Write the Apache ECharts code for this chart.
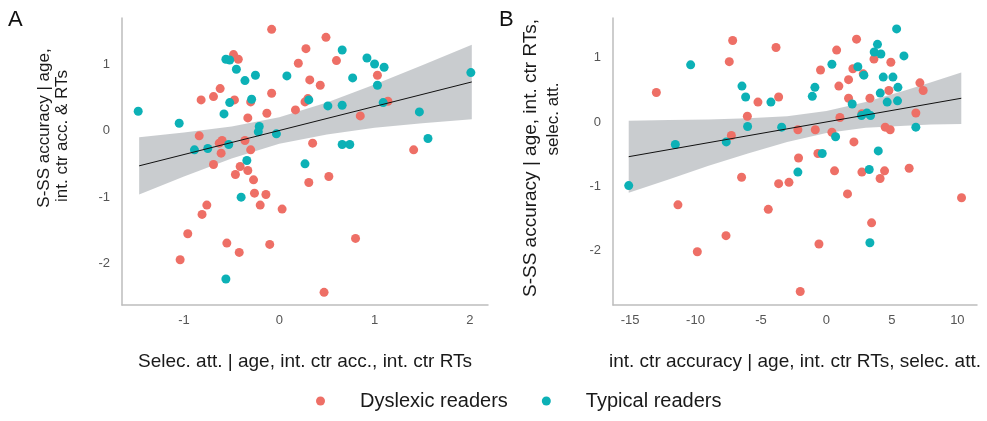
<!DOCTYPE html>
<html>
<head>
<meta charset="utf-8">
<script src="https://cdn.jsdelivr.net/npm/echarts@6/dist/echarts.min.js"></script>
<style>
  html, body { margin: 0; padding: 0; background: #fff; }
  #main { width: 987px; height: 421px; }
</style>
</head>
<body>
<div id="main"></div>
<script>
// panel A: selective attention (x) vs S-SS accuracy (y)
var dysA = [[-0.08,1.52],[0.49,1.40],[0.28,1.23],[-0.48,1.14],[-0.43,1.07],[0.20,1.01],[0.60,1.05],[1.03,0.83],[0.32,0.76],[0.43,0.68],[-0.62,0.63],[-0.08,0.56],[-0.69,0.51],[-0.82,0.46],[-0.47,0.46],[-0.30,0.43],[0.30,0.48],[0.27,0.43],[0.17,0.31],[-0.13,0.26],[-0.33,0.19],[1.14,0.44],[0.85,0.22],[-0.84,-0.08],[-0.60,-0.15],[-0.63,-0.19],[-0.36,-0.15],[-0.61,-0.34],[-0.30,-0.29],[0.35,-0.19],[1.41,-0.29],[-0.69,-0.51],[-0.41,-0.54],[-0.33,-0.60],[-0.46,-0.66],[-0.27,-0.74],[0.31,-0.78],[0.52,-0.69],[-0.26,-0.94],[-0.14,-0.96],[-0.20,-1.12],[0.03,-1.18],[-0.76,-1.12],[-0.81,-1.26],[-0.96,-1.55],[0.80,-1.62],[-0.55,-1.69],[-0.10,-1.71],[-0.42,-1.83],[-1.04,-1.94],[0.47,-2.43]];
var typA = [[-1.48,0.29],[-1.05,0.11],[-0.56,1.07],[-0.52,1.06],[-0.45,0.92],[-0.36,0.75],[-0.25,0.83],[0.08,0.82],[0.66,1.21],[0.92,1.09],[1.00,1.00],[1.10,0.95],[0.77,0.79],[1.03,0.68],[2.01,0.87],[-0.52,0.42],[-0.29,0.47],[-0.58,0.25],[0.31,0.46],[0.51,0.37],[0.66,0.38],[1.09,0.42],[1.47,0.28],[-0.21,0.06],[-0.22,-0.02],[-0.03,-0.05],[-0.89,-0.29],[-0.75,-0.27],[-0.53,-0.21],[0.66,-0.21],[0.74,-0.21],[1.56,-0.12],[-0.34,-0.45],[0.27,-0.50],[-0.40,-1.00],[-0.56,-2.23]];
var fitA = [[-1.47,-0.53],[2.02,0.73]];
var bandAX  = [-1.47, -1, -0.5, 0, 0.5, 1, 1.5, 2.02];
var bandALo = [-0.96, -0.69, -0.42, -0.20, -0.06, 0.04, 0.11, 0.17];
var bandAHi = [-0.10, -0.03, 0.06, 0.20, 0.42, 0.69, 0.98, 1.29];

// panel B: int. ctr accuracy (x) vs S-SS accuracy (y)
var dysB = [[-12.99,0.46],[-7.16,1.27],[-7.42,0.94],[-3.85,1.16],[0.78,1.12],[2.30,1.29],[3.63,0.98],[4.92,0.93],[-0.45,0.81],[2.02,0.83],[1.69,0.66],[0.95,0.56],[2.81,0.75],[-5.23,0.31],[-3.65,0.39],[-6.04,0.09],[1.69,0.37],[3.32,0.37],[4.77,0.49],[7.14,0.61],[7.39,0.49],[6.83,0.14],[1.03,0.07],[2.71,0.13],[-7.26,-0.21],[-2.18,-0.12],[-0.85,-0.12],[0.42,-0.16],[4.49,-0.08],[4.87,-0.12],[2.10,-0.31],[-2.13,-0.56],[-0.65,-0.49],[-6.48,-0.86],[-3.65,-0.96],[-2.86,-0.94],[0.62,-0.76],[2.71,-0.78],[4.10,-0.88],[4.44,-0.76],[6.32,-0.72],[-11.34,-1.29],[-4.44,-1.36],[1.61,-1.12],[10.32,-1.18],[3.45,-1.57],[-7.67,-1.77],[-9.86,-2.02],[-0.57,-1.90],[-2.00,-2.64]];
var typB = [[-15.10,-0.99],[-11.54,-0.35],[-10.37,0.89],[-6.45,0.56],[-6.17,0.39],[-6.02,-0.07],[-4.24,0.31],[-7.65,-0.31],[-3.42,-0.08],[-2.18,-0.78],[-1.08,0.40],[-0.88,0.54],[-0.32,-0.49],[0.42,0.90],[0.70,-0.23],[1.97,0.28],[2.40,0.86],[2.86,0.73],[2.68,0.10],[3.09,0.14],[3.37,0.10],[3.65,1.09],[3.90,1.21],[4.16,1.06],[4.34,0.70],[4.11,0.45],[5.08,0.70],[4.64,0.31],[5.46,0.54],[5.43,0.33],[5.36,1.45],[5.92,1.03],[3.96,-0.45],[3.27,-0.74],[3.32,-1.88],[6.83,-0.08]];
var fitB = [[-15.1,-0.54],[10.3,0.37]];
var bandBX  = [-15.1, -12, -9, -6, -3, 0, 3, 6, 8, 10.3];
var bandBLo = [-1.10, -0.89, -0.68, -0.49, -0.31, -0.17, -0.09, -0.06, -0.04, -0.03];
var bandBHi = [0.02, 0.03, 0.04, 0.06, 0.09, 0.17, 0.31, 0.49, 0.62, 0.77];

var xTicksA = [-1, 0, 1, 2];
var yTicksA = [-2, -1, 0, 1];
var xTicksB = [-15, -10, -5, 0, 5, 10];
var yTicksB = [-2, -1, 0, 1];

var groups = ['Dyslexic readers', 'Typical readers'];
var colDys = '#ee6f66';
var colTyp = '#0cb1b6';

var chart = echarts.init(document.getElementById('main'));

function axisCommon(ticks) {
    return {
        type: 'value',
        axisLine: { show: true, onZero: false, lineStyle: { color: '#bdbdbd', width: 1.5 } },
        axisTick: { show: false },
        splitLine: { show: false },
        axisLabel: { customValues: ticks, color: '#555', fontSize: 13, fontFamily: 'Liberation Sans' }
    };
}

function bandSeries(idx, xs, lo, hi) {
    return {
        type: 'custom',
        xAxisIndex: idx,
        yAxisIndex: idx,
        silent: true,
        data: [[xs[0], lo[0]]],
        renderItem: function (params, api) {
            var pts = [];
            for (var i = 0; i < xs.length; i++) pts.push(api.coord([xs[i], hi[i]]));
            for (var j = xs.length - 1; j >= 0; j--) pts.push(api.coord([xs[j], lo[j]]));
            return {
                type: 'polygon',
                shape: { points: pts },
                style: { fill: 'rgba(120,128,134,0.4)' }
            };
        }
    };
}

function scatter(idx, name, data, color) {
    return {
        type: 'scatter',
        name: name,
        xAxisIndex: idx,
        yAxisIndex: idx,
        data: data,
        symbolSize: 9,
        itemStyle: { color: color, opacity: 1 }
    };
}

function fitLine(idx, data) {
    return {
        type: 'line',
        xAxisIndex: idx,
        yAxisIndex: idx,
        data: data,
        symbol: 'none',
        silent: true,
        lineStyle: { color: '#111', width: 1 }
    };
}

var xA = axisCommon(xTicksA);
xA.gridIndex = 0; xA.min = -1.65; xA.max = 2.19;
xA.axisLabel.margin = 9;
xA.name = 'Selec. att. | age, int. ctr acc., int. ctr RTs';
xA.nameLocation = 'middle'; xA.nameGap = 47;
xA.nameTextStyle = { fontSize: 19, color: '#1a1a1a', fontFamily: 'Liberation Sans' };

var xB = axisCommon(xTicksB);
xB.gridIndex = 1; xB.min = -16.3; xB.max = 11.5;
xB.axisLabel.margin = 9;
xB.name = 'int. ctr accuracy | age, int. ctr RTs, selec. att.';
xB.nameLocation = 'middle'; xB.nameGap = 47;
xB.nameTextStyle = { fontSize: 19, color: '#1a1a1a', fontFamily: 'Liberation Sans' };

var yA = axisCommon(yTicksA);
yA.gridIndex = 0; yA.min = -2.62; yA.max = 1.69;
yA.axisLabel.margin = 12;

var yB = axisCommon(yTicksB);
yB.gridIndex = 1; yB.min = -2.85; yB.max = 1.62;
yB.axisLabel.margin = 12;

function vText(x, y, text, size) {
    return {
        type: 'text', x: x, y: y, rotation: Math.PI / 2,
        style: { text: text, fontSize: size, fill: '#1a1a1a', fontFamily: 'Liberation Sans', align: 'center', verticalAlign: 'middle' }
    };
}

var option = {
    animation: false,
    backgroundColor: '#fff',
    grid: [
        { left: 122, top: 18, width: 366, height: 287 },
        { left: 613, top: 18, width: 364, height: 287 }
    ],
    xAxis: [xA, xB],
    yAxis: [yA, yB],
    legend: {
        data: groups,
        left: 311,
        top: 386,
        icon: 'circle',
        itemWidth: 9,
        itemHeight: 9,
        itemGap: 34,
        textStyle: { fontSize: 20, color: '#1a1a1a', fontFamily: 'Liberation Sans', padding: [0, 0, 0, 30] }
    },
    graphic: [
        { type: 'text', x: 8, y: 9, style: { text: 'A', fontSize: 22, fill: '#111', fontFamily: 'Liberation Sans' } },
        { type: 'text', x: 499, y: 9, style: { text: 'B', fontSize: 22, fill: '#111', fontFamily: 'Liberation Sans' } },
        vText(44, 128, 'S-SS accuracy | age,', 17),
        vText(62, 136, 'int. ctr acc. & RTs', 17),
        vText(531, 158, 'S-SS accuracy | age, int. ctr RTs,', 19),
        vText(553, 119, 'selec. att.', 17)
    ],
    series: [
        scatter(0, groups[0], dysA, colDys),
        scatter(0, groups[1], typA, colTyp),
        bandSeries(0, bandAX, bandALo, bandAHi),
        fitLine(0, fitA),
        scatter(1, groups[0], dysB, colDys),
        scatter(1, groups[1], typB, colTyp),
        bandSeries(1, bandBX, bandBLo, bandBHi),
        fitLine(1, fitB)
    ]
};

chart.setOption(option);
</script>
</body>
</html>
